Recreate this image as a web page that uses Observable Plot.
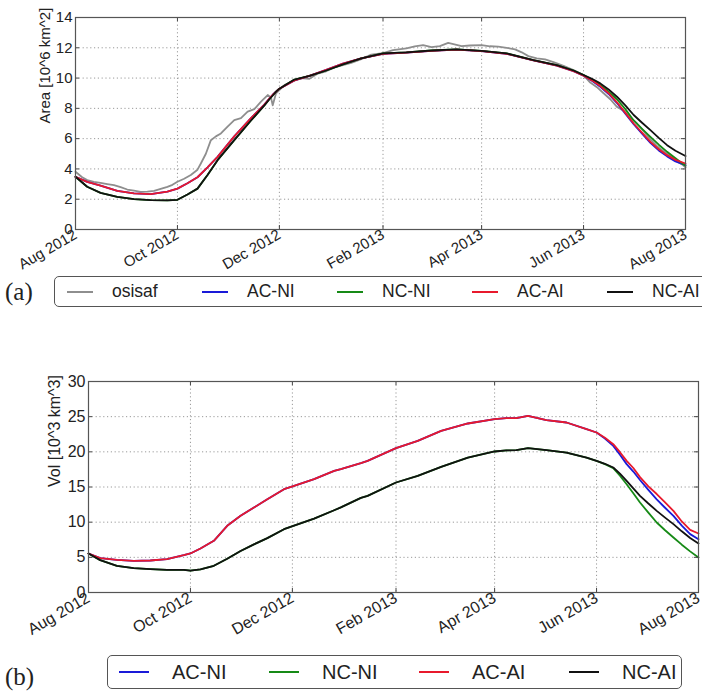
<!DOCTYPE html>
<html><head><meta charset="utf-8">
<script src="https://cdn.jsdelivr.net/npm/d3@7"></script>
<script src="https://cdn.jsdelivr.net/npm/@observablehq/plot@0.6"></script>
<style>
body{margin:0;width:702px;height:692px;overflow:hidden;background:#fff;position:relative;font-family:"Liberation Sans",Arial,sans-serif;color:#222}
#a{position:absolute;left:0;top:0}
#b{position:absolute;left:0;top:360px}
.legend{position:absolute;border:1.5px solid #555;border-radius:5px;box-sizing:border-box;background:#fff}
.sw{position:absolute;height:2px}
.lab{position:absolute;white-space:nowrap}
.tag{position:absolute;font-family:"Liberation Serif","DejaVu Serif",serif;font-size:25px;line-height:25px}
</style></head><body>
<div id="a"></div><div id="b"></div>
<div id="legA" class="legend" style="left:54px;top:276px;width:700px;height:31px"></div>
<div id="legB" class="legend" style="left:107px;top:655px;width:575px;height:34px"></div>
<div class="tag" style="left:5px;top:279px">(a)</div>
<div class="tag" style="left:5px;top:664px">(b)</div>
<script>
// ---- x ticks ----
const tickMonths = ["2012-08-01","2012-10-01","2012-12-01","2013-02-01","2013-04-01","2013-06-01","2013-08-01"];
const yTicksA = [0,2,4,6,8,10,12,14];
const yTicksB = [0,5,10,15,20,25,30];
const seriesNames = ["osisaf","AC-NI","NC-NI","AC-AI","NC-AI"];
const seriesColors = ["#8e8e8e","#1a1ad8","#168a16","#e8192c","#111111"];

// ---- panel (a): sea-ice area [10^6 km^2], days since 2012-08-01 ----
const osisafDays = [0,4,7,11,15,19,23,27,31,35,39,43,47,51,55,58,61,65,69,73,75,78,81,84,87,91,95,99,103,107,111,115,117,118,119,120,125,130,135,140,145,150,155,160,165,171,177,184,190,198,203,208,213,218,223,228,231,236,243,248,253,258,263,267,271,276,281,286,292,298,304,308,312,316,320,324,328,332,336,340,344,348,352,356,360,363,365];
const osisafArea = [3.81,3.45,3.26,3.15,3.08,3.0,2.93,2.8,2.64,2.56,2.49,2.5,2.55,2.68,2.82,2.95,3.15,3.35,3.6,3.95,4.36,5.0,5.9,6.15,6.34,6.8,7.22,7.35,7.78,7.95,8.44,8.88,8.7,8.2,8.6,8.99,9.54,9.8,10.0,9.95,10.3,10.45,10.7,10.85,11.0,11.25,11.55,11.65,11.85,11.96,12.1,12.18,12.05,12.11,12.33,12.2,12.11,12.15,12.18,12.1,12.07,12.0,11.89,11.7,11.45,11.3,11.23,11.05,10.8,10.53,10.2,9.7,9.4,9.0,8.6,8.1,7.85,7.4,7.0,6.5,5.95,5.5,5.15,4.85,4.5,4.3,4.1];

const daysA = [0,7,15,25,35,45,55,61,67,73,79,85,95,105,113,116,118,120,122,131,140,150,160,171,184,198,213,228,243,258,274,288,298,304,309,314,319,324,329,334,339,344,349,354,359,365];
const acNiArea = [3.48,3.15,2.9,2.55,2.38,2.33,2.5,2.7,3.05,3.45,4.1,4.8,6.15,7.35,8.25,8.65,8.9,9.1,9.3,9.85,10.15,10.55,10.95,11.3,11.6,11.68,11.8,11.88,11.78,11.6,11.17,10.82,10.45,10.15,9.82,9.42,8.95,8.35,7.65,6.95,6.33,5.72,5.22,4.83,4.5,4.25];
const ncNiArea = [3.48,2.82,2.42,2.16,2.0,1.94,1.92,1.96,2.31,2.7,3.6,4.58,5.9,7.2,8.2,8.6,8.85,9.1,9.3,9.9,10.15,10.5,10.9,11.3,11.63,11.7,11.82,11.89,11.8,11.63,11.19,10.86,10.5,10.2,9.9,9.55,9.1,8.6,7.95,7.2,6.65,6.12,5.6,5.13,4.7,4.2];
const acAiArea = [3.48,3.15,2.9,2.55,2.38,2.33,2.5,2.7,3.05,3.45,4.1,4.8,6.15,7.35,8.25,8.65,8.9,9.1,9.3,9.85,10.15,10.55,10.95,11.3,11.6,11.68,11.8,11.88,11.78,11.6,11.17,10.82,10.45,10.15,9.85,9.47,9.0,8.4,7.7,7.0,6.4,5.79,5.3,4.91,4.6,4.36];
const ncAiArea = [3.48,2.82,2.42,2.16,2.0,1.94,1.92,1.96,2.31,2.7,3.6,4.58,5.9,7.2,8.2,8.6,8.85,9.1,9.3,9.9,10.15,10.5,10.9,11.3,11.63,11.7,11.82,11.89,11.8,11.63,11.19,10.86,10.5,10.2,9.95,9.65,9.25,8.77,8.2,7.56,7.05,6.56,6.05,5.57,5.2,4.85];

// ---- panel (b): sea-ice volume [10^3 km^3] ----
const daysB = [0,7,17,27,37,47,57,61,67,75,83,91,99,107,117,123,135,147,151,163,167,184,197,211,227,243,250,256,263,274,286,298,304,309,314,318,322,326,330,335,340,345,350,355,360,365];
const acNiVol = [5.55,4.88,4.65,4.5,4.55,4.75,5.3,5.55,6.26,7.35,9.48,10.9,12.09,13.27,14.69,15.17,16.11,17.3,17.54,18.4,18.72,20.52,21.56,22.99,24.03,24.64,24.79,24.79,25.12,24.5,24.17,23.22,22.75,21.9,20.85,19.6,18.25,17.2,16.0,14.6,13.25,12.05,10.9,9.5,8.3,7.58];
const ncNiVol = [5.55,4.6,3.8,3.46,3.32,3.22,3.22,3.1,3.3,3.8,4.8,5.9,6.85,7.73,9.0,9.5,10.5,11.7,12.1,13.45,13.74,15.64,16.59,17.87,19.19,20.05,20.2,20.24,20.52,20.24,19.9,19.19,18.72,18.25,17.68,16.6,15.4,14.1,12.8,11.35,9.95,8.85,7.82,6.8,5.85,4.98];
const acAiVol = [5.55,4.88,4.65,4.5,4.55,4.75,5.3,5.55,6.26,7.35,9.48,10.9,12.09,13.27,14.69,15.17,16.11,17.3,17.54,18.4,18.72,20.52,21.56,22.99,24.03,24.64,24.79,24.79,25.12,24.5,24.17,23.22,22.75,22.0,21.09,19.95,18.72,17.7,16.4,15.1,14.0,12.8,11.6,10.1,8.9,8.39];
const ncAiVol = [5.55,4.6,3.8,3.46,3.32,3.22,3.22,3.1,3.3,3.8,4.8,5.9,6.85,7.73,9.0,9.5,10.5,11.7,12.1,13.45,13.74,15.64,16.59,17.87,19.19,20.05,20.2,20.24,20.52,20.24,19.9,19.19,18.72,18.3,17.77,16.9,15.88,14.8,13.74,12.65,11.61,10.65,9.72,8.7,7.75,6.97];

const yLabelA = "Area [10^6 km^2]";
const yLabelB = "Vol [10^3 km^3]";

// ---- helpers ----
const day0 = Date.UTC(2012, 7, 1);
const toDate = d => new Date(day0 + d * 864e5);
const tickDates = tickMonths.map(s => new Date(s + "T00:00:00Z"));
const rows = (days, vals) => days.map((d, i) => ({date: toDate(d), value: vals[i]}));
const fmt = d3.utcFormat("%b %Y");
const font = "'Liberation Sans', Arial, sans-serif";

function panel({series, yTicks, yMax, yLabel, width, height, ml, mr, mt, mb, labelDx, fs}) {
  const pw = width - ml - mr, ph = height - mt - mb;
  return Plot.plot({
    width, height, marginLeft: ml, marginRight: mr, marginTop: mt, marginBottom: mb,
    style: {fontFamily: font, background: "#fff", overflow: "visible"},
    x: {type: "utc", domain: [toDate(0), toDate(365)]},
    y: {domain: [0, yMax]},
    marks: [
      Plot.gridX(tickDates, {stroke: "#9a9a9a", strokeOpacity: 1, strokeDasharray: "1.2,2.6", strokeWidth: 1}),
      Plot.gridY(yTicks, {stroke: "#9a9a9a", strokeOpacity: 1, strokeDasharray: "1.2,2.6", strokeWidth: 1}),
      ...series.map(s => Plot.line(s.data, {x: "date", y: "value", stroke: s.color, strokeWidth: 1.8})),
      Plot.ruleX(tickDates, {stroke: "#444", insetTop: ph - 4}),
      Plot.ruleX(tickDates, {stroke: "#444", insetBottom: ph - 4}),
      Plot.ruleY(yTicks, {stroke: "#444", insetRight: pw - 4}),
      Plot.ruleY(yTicks, {stroke: "#444", insetLeft: pw - 4}),
      Plot.frame({stroke: "#555", strokeWidth: 1.2}),
      Plot.axisX({ticks: tickDates, tickFormat: fmt, tickRotate: -30, tickSize: 0, tickPadding: 4, fontSize: fs, color: "#222", label: null}),
      Plot.axisY({ticks: yTicks, tickSize: 0, tickPadding: 3, fontSize: fs, color: "#222", label: null}),
      Plot.text([yLabel], {text: d => d, frameAnchor: "left", rotate: -90, dx: labelDx, fontSize: fs, fill: "#222"})
    ]
  });
}

const modelArea = [acNiArea, ncNiArea, acAiArea, ncAiArea];
const seriesA = [{data: rows(osisafDays, osisafArea), color: seriesColors[0]},
  ...modelArea.map((v, i) => ({data: rows(daysA, v), color: seriesColors[i + 1]}))];
const modelVol = [acNiVol, ncNiVol, acAiVol, ncAiVol];
const seriesB = modelVol.map((v, i) => ({data: rows(daysB, v), color: seriesColors[i + 1]}));

document.getElementById("a").append(panel({series: seriesA, yTicks: yTicksA, yMax: 14, yLabel: yLabelA,
  width: 702, height: 270, ml: 75, mr: 17, mt: 17, mb: 41, labelDx: -30, fs: 15}));
document.getElementById("b").append(panel({series: seriesB, yTicks: yTicksB, yMax: 30, yLabel: yLabelB,
  width: 702, height: 290, ml: 88, mr: 4, mt: 21, mb: 58, labelDx: -34, fs: 16}));

function legend(el, names, colors, {x0, step, lineLen, gap, fs}) {
  names.forEach((n, i) => {
    const sw = document.createElement("div");
    sw.className = "sw";
    sw.style.cssText = `left:${x0 + i * step}px;top:calc(50% - 1px);width:${lineLen}px;background:${colors[i]}`;
    const t = document.createElement("div");
    t.className = "lab";
    t.textContent = n;
    t.style.cssText = `left:${x0 + i * step + lineLen + gap}px;top:0;height:100%;display:flex;align-items:center;font-size:${fs}px`;
    el.append(sw, t);
  });
}
legend(document.getElementById("legA"), seriesNames, seriesColors, {x0: 12, step: 135, lineLen: 26, gap: 19, fs: 17.5});
legend(document.getElementById("legB"), seriesNames.slice(1), seriesColors.slice(1), {x0: 11, step: 150, lineLen: 30, gap: 23, fs: 20});
</script>
</body></html>
